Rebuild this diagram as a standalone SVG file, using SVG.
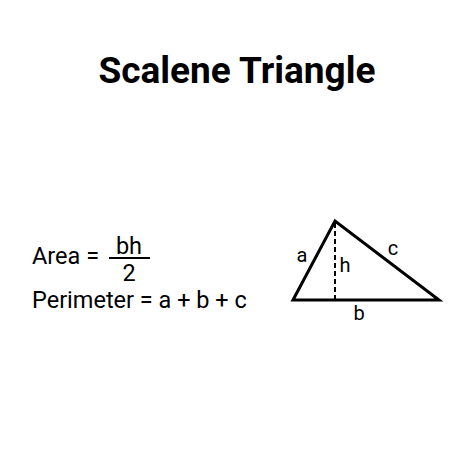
<svg xmlns="http://www.w3.org/2000/svg" width="474" height="474" viewBox="0 0 474 474">
<style>
.t{font-family:Roboto,"Liberation Sans",sans-serif;fill:#000}
.f{font-size:23.5px}
.l{font-size:20px}
</style>
<rect width="474" height="474" fill="#fff"/>
<text class="t" x="237" y="83" font-size="37" font-weight="bold" text-anchor="middle">Scalene Triangle</text>
<g id="formulas">
<text class="t f" x="32" y="264">Area =</text>
<text class="t f" x="129" y="254" text-anchor="middle">bh</text>
<line x1="109" y1="258" x2="150" y2="258" stroke="#000" stroke-width="2"/>
<text class="t f" x="129" y="281" text-anchor="middle">2</text>
<text class="t f" x="32" y="308">Perimeter = a + b + c</text>
</g>
<g id="triangle">
<polygon points="293,300 335,221 439,300" fill="none" stroke="#000" stroke-width="3" stroke-linejoin="miter"/>
<line x1="335" y1="223" x2="335" y2="300" stroke="#000" stroke-width="2" stroke-dasharray="5,3"/>
<text class="t l" x="302" y="262" text-anchor="middle">a</text>
<text class="t l" x="345" y="272" text-anchor="middle">h</text>
<text class="t l" x="393" y="255" text-anchor="middle">c</text>
<text class="t l" x="359" y="320" text-anchor="middle">b</text>
</g>
</svg>
